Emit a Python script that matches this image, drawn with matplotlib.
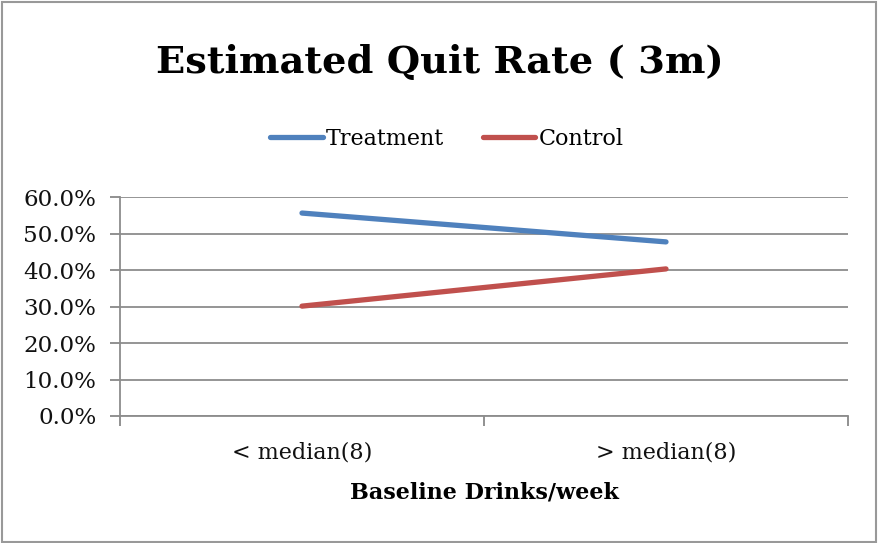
import matplotlib
matplotlib.use("Agg")
import matplotlib.pyplot as plt
from matplotlib.patches import Rectangle
from matplotlib.ticker import FuncFormatter

categories = ["< median(8)", "> median(8)"]
treatment = [55.6, 47.7]
control = [30.1, 40.3]
y_ticks = [0, 10, 20, 30, 40, 50, 60]

plt.rcParams["font.family"] = ["DejaVu Serif"]

fig = plt.figure(figsize=(8.8, 5.43), dpi=100)
ax = fig.add_axes([120 / 880, 1 - 416 / 543, (848 - 120) / 880, (416 - 197) / 543])

x = [0.5, 1.5]
ax.plot(x, treatment, color="#4F81BD", lw=3.8, solid_capstyle="round", label="Treatment", zorder=3)
ax.plot(x, control, color="#C0504D", lw=3.8, solid_capstyle="round", label="Control", zorder=3)

ax.set_xlim(0, 2)
ax.set_ylim(0, 60)
ax.set_yticks(y_ticks)
ax.yaxis.set_major_formatter(FuncFormatter(lambda v, p: f"{v:.1f}%"))
ax.set_xticks(x)
ax.set_xticklabels(categories)
ax.tick_params(axis="x", length=0, labelsize=16, pad=18, colors="#111111")
ax.tick_params(axis="y", length=7, width=1.3, color="#888888", labelsize=16.6, pad=10,
               labelcolor="#111111")
ax.set_xticks([0, 1, 2], minor=True)
ax.tick_params(axis="x", which="minor", length=7, width=1.3, color="#888888", direction="out")

ax.grid(axis="y", color="#8c8c8c", lw=1.3)
ax.set_axisbelow(True)
for s in ["top", "right"]:
    ax.spines[s].set_visible(False)
for s in ["left", "bottom"]:
    ax.spines[s].set_color("#8c8c8c")
    ax.spines[s].set_linewidth(1.3)

ax.set_xlabel("Baseline Drinks/week", fontsize=16, fontweight="bold", labelpad=13)

fig.text(0.5, 1 - 63 / 543, "Estimated Quit Rate ( 3m)", ha="center", va="center",
         fontsize=27.6, fontweight="bold")

leg = fig.legend(handles=ax.get_lines(), loc="center", bbox_to_anchor=(447 / 880, 1 - 139 / 543),
                 ncol=2, frameon=False, fontsize=16, handlelength=2.35, handletextpad=0.15,
                 columnspacing=1.75)

fig.patches.append(Rectangle((0.002, 0.002), 0.994, 0.994, transform=fig.transFigure,
                             fill=False, edgecolor="#999999", lw=1.5))

fig.savefig("out.png", dpi=100)
